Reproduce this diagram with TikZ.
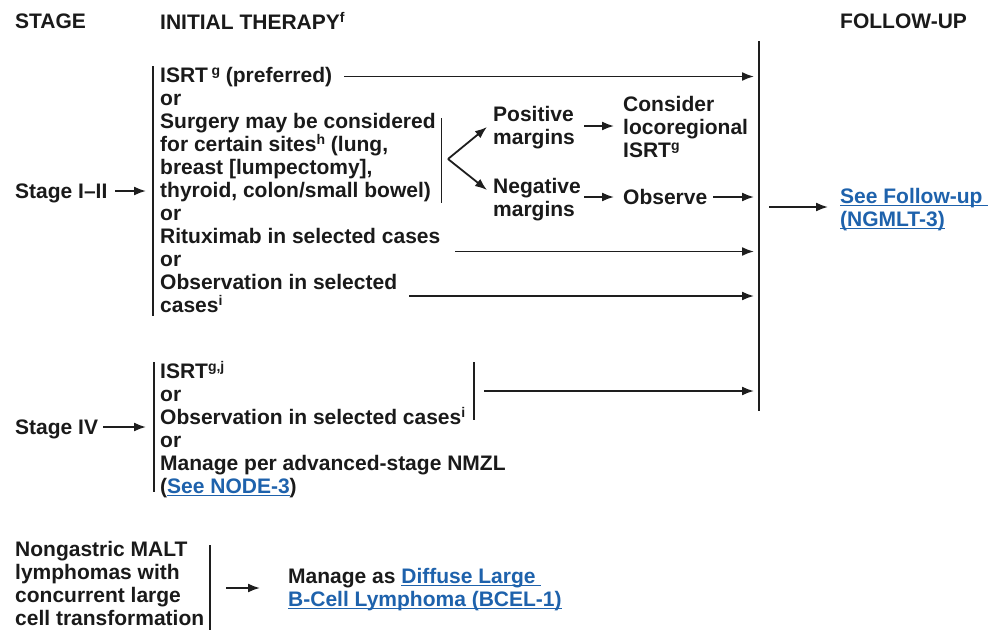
\documentclass[tikz,border=0pt]{standalone}
\usepackage{fontspec}
\setmainfont{Liberation Sans}
\usetikzlibrary{arrows.meta}

\definecolor{ink}{HTML}{1A1A1A}
\definecolor{rulegray}{HTML}{1E1E1E}
\definecolor{linkblue}{RGB}{30,98,172}

% superscript footnote marks
\newcommand\sps[1]{\raisebox{7pt}{\fontsize{14}{14}\selectfont #1}}
% underlined cross-reference
\newcommand\lnk[1]{\textcolor{linkblue}{\setbox0\hbox{#1}\rlap{\rule[-3pt]{\wd0}{1.3pt}}\box0}}
% first-line strut: node top sits 16pt above the first baseline
\newcommand\fst{\rule{0pt}{16pt}}

\tikzset{
  txt/.style={anchor=north west, inner sep=0pt, align=left,
              font=\fontsize{21}{23}\selectfont\bfseries, text=ink},
  bar/.style={draw=rulegray, line width=1.9pt},
  arr/.style={draw=rulegray, line width=1.8pt, -{Latex[length=12pt,width=9pt]}}
}

\begin{document}
\begin{tikzpicture}[x=1pt,y=-1pt]
\useasboundingbox[fill=white] (0,0) rectangle (989,630);

% column headers
\node[txt] (hStage)  at (15,12)  {\fst STAGE};
\node[txt] (hInit)   at (160,12) {\fst INITIAL THERAPY\sps{f}};
\node[txt] (hFollow) at (840,12) {\fst FOLLOW-UP};

% stage I-II
\node[txt] (s12) at (15,182) {\fst Stage I–II};
\node[txt] (optA) at (160,66.5) {\fst ISRT\,\sps{g} (preferred)\\
  or\\
  Surgery may be considered\\
  for certain sites\sps{h} (lung,\\
  breast [lumpectomy],\\
  thyroid, colon/small bowel)\\
  or\\
  Rituximab in selected cases\\
  or\\
  Observation in selected\\
  cases\sps{i}};
\node[txt] (pos) at (493,105) {\fst Positive\\margins};
\node[txt] (neg) at (493,177) {\fst Negative\\margins};
\node[txt] (cons) at (623,95) {\fst Consider\\locoregional\\ISRT\sps{g}};
\node[txt] (obs) at (623,188) {\fst Observe};
\node[txt] (fup) at (840,187) {\fst\lnk{See Follow-up }\\\lnk{(NGMLT-3)}};

% stage IV
\node[txt] (s4) at (15,418) {\fst Stage IV};
\node[txt] (optB) at (160,361) {\fst ISRT\sps{g,j}\\
  or\\
  Observation in selected cases\sps{i}\\
  or\\
  Manage per advanced-stage NMZL\\
  (\lnk{See NODE-3})};

% transformed MALT lymphoma
\node[txt] (malt) at (15,540) {\fst Nongastric MALT\\lymphomas with\\concurrent large\\cell transformation};
\node[txt] (dlbcl) at (288,567) {\fst Manage as \lnk{Diffuse Large }\\\lnk{B-Cell Lymphoma (BCEL-1)}};

% connector end points
\coordinate (barTop) at (759,41);
\coordinate (barBot) at (759,411);
\coordinate (aTop) at (153,66);   \coordinate (aBot) at (153,316);
\coordinate (sTop) at (441.5,118); \coordinate (sBot) at (441.5,203);
\coordinate (bTop) at (154,362);  \coordinate (bBot) at (154,492);
\coordinate (brTop) at (474,362); \coordinate (brBot) at (474,420);
\coordinate (mTop) at (210,545);  \coordinate (mBot) at (210,630);
\coordinate (fork) at (448,159);
\coordinate (posIn) at (487,127);
\coordinate (negIn) at (487,190);

\coordinate (isrtOut) at (344,76.5);  \coordinate (isrtIn) at (754,76.5);
\coordinate (obsOut)  at (713,197);   \coordinate (obsIn)  at (754,197);
\coordinate (ritOut)  at (455,251.5); \coordinate (ritIn)  at (754,251.5);
\coordinate (watchOut) at (409,296);  \coordinate (watchIn) at (754,296);
\coordinate (ivOut)   at (484,391);   \coordinate (ivIn)   at (754,391);
\coordinate (fupOut)  at (769,207);   \coordinate (fupIn)  at (828,207);
\coordinate (s12Out)  at (115,191);   \coordinate (s12In)  at (146,191);
\coordinate (s4Out)   at (103,427);   \coordinate (s4In)   at (146,427);
\coordinate (posOut)  at (584,126);   \coordinate (consIn) at (614,126);
\coordinate (negOut)  at (584,197);   \coordinate (obsIn0) at (614,197);
\coordinate (maltOut) at (226,588);   \coordinate (maltIn) at (260,588);

% brackets and the collecting bar
\draw[bar] (barTop) -- (barBot);
\draw[bar] (aTop) -- (aBot);
\draw[bar] (sTop) -- (sBot);
\draw[bar] (bTop) -- (bBot);
\draw[bar] (brTop) -- (brBot);
\draw[bar] (mTop) -- (mBot);

% arrows
\draw[arr] (s12Out) -- (s12In);
\draw[arr] (s4Out) -- (s4In);
\draw[arr] (fork) -- (posIn);
\draw[arr] (fork) -- (negIn);
\draw[arr] (posOut) -- (consIn);
\draw[arr] (negOut) -- (obsIn0);
\draw[arr] (isrtOut) -- (isrtIn);
\draw[arr] (obsOut) -- (obsIn);
\draw[arr] (ritOut) -- (ritIn);
\draw[arr] (watchOut) -- (watchIn);
\draw[arr] (ivOut) -- (ivIn);
\draw[arr] (fupOut) -- (fupIn);
\draw[arr] (maltOut) -- (maltIn);
\end{tikzpicture}
\end{document}
